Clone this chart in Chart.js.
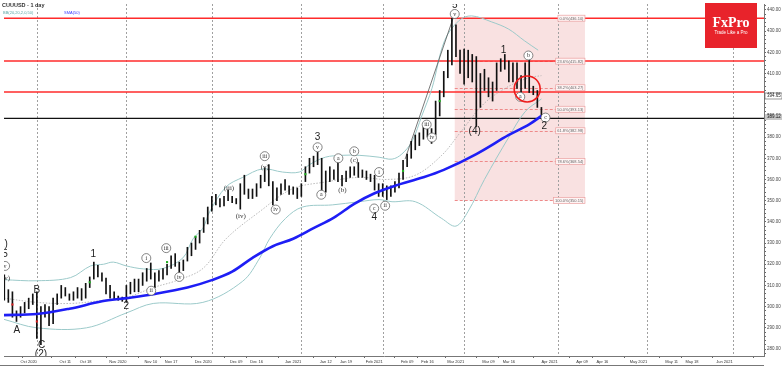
<!DOCTYPE html>
<html>
<head>
    <title>CUUUSD - 1 day</title>
    <script src="https://cdn.jsdelivr.net/npm/chart.js"></script>
</head>
<body style="margin: 0; background-color: #ffffff;">
    <canvas id="myChart" width="782" height="366"></canvas>

    <script>
        // bar 0 = 1 Oct 2020, one step per trading day
        var firstBar = -8;
        var opens = [312,305,306,297,296,299,300,302,305,288,299,299.6,292.6,302,305,306,305.5,305,305,307.5,305,309.8,313.5,319,315.5,313,309,306.5,304.5,303.5,304,308,308.5,309,311.5,313,316,313,316,314.5,316,319.2,322.5,320,318,322,325,327.7,331,336,340,346,350.4,349.5,349,352.8,351,350,350.4,359,354.6,352,353,356.5,360,364.4,358,351,354,355.5,356,354,355,352.8,360,363.5,368,370.5,369,355,364,361,367,358.8,360,362,363,364.6,362,363.5,361,361,357.4,354,356,353,355,357,361,366.8,371.4,375,377.5,380,381,383,382,392,401,409,416,430,419.5,411,420,410,417,396,411.5,407,400,403,414,416,414.8,408,414,402,404,414,403,401.7,393];
        var highs = [315,308,307,298,300,302,304,306,307,300,301,300,304,306,310,309,306,307,309,308.5,311,314,321,319.5,316,313.5,310,307,305,304.5,310,311.5,313,313,316,318,320.6,316,317,318,320,324,325,321,322,328,330,333,336,342,347,352,353,351,352,355,352,351,358,362,355.5,355.5,358,362,365.5,367,359,356,358,360,357,356.5,356,358,366,370,371,372.8,370,364,366,364.5,369,362,364,366,366,368,364.5,364,362.5,362,358,358,357,357,359,363,369,372,378,381,382,385,386,384,397,402,411,421,436.1,433,421,421.5,421,419,418,410,412,408,406,415,417,419,416,415,415,409,415,417,404,402,394];
        var lows = [303,302,295,293,295,297,299,301,285,282,295,291,292,301,304,305,303,303,304,303,304,309,313,314,312,306,304,303.5,303,302.5,302,306,307,307,310,312,313,309,312,313,315,318,319,316,317,321.5,324,327,330,335,339,345,348,347,347.5,350,349,348.5,346,353,351,351,352,356,359,357,348,350,353,355,353,353,351,352,359,363,366,367,354,354,359,360,359,357,359,361,362,361,361,360,359,355,352,352,350.5,352,354,356,360,366,370,374,376,379,380,377,381,390,399,408,414,418,410,405,408,406,385,394,402,399,397,402,411,412,406,406,403,399,403,401,400,394,389];
        var closes = [305,306,297,296,299,301,302,304,288,299,297,292,303,304.5,308,307.5,304,305.3,308,304,310,313.5,319,315.5,313,307,305,304.5,303.5,303.6,309,310.5,311.5,312,315,316,313.6,315,313,317,319,322.5,320,318,321,327,329.5,332,334.6,341,346,351,350.6,348,351,350.4,349.5,350.2,357.4,353.5,351.9,354.6,357,361,364.4,358,351,355,357,359,354,355.5,352,357.4,365,369.6,370,368.2,355,363.5,360,363.5,360,361,363,365,365,362,363.5,361,361.2,356,354.2,356,352.8,356,358,362,368,371.4,377.5,380,381,383.6,384,381.6,396,401,410,420,430,419.5,411.5,420,410,418,394.8,409,404,401,404,414,416,414,408.8,414,405,403.5,414,402,401.7,394.8,390.5];

        // SMA(50)
        var smaBar = [-8.1,0,8,16,22,29,37,43,48,53,58,63,68,73,78,83,88,95,100,108,116,121,124];
        var smaVal = [296,296.5,299,302.5,304,306,309,312.5,316.5,323,328.5,332,337,342,348.5,353.5,357,361,364.5,372,381,386,390];

        // Bollinger bands
        var upperBar = [-8.1,0,8.3,13.2,16.4,18.8,22,26.2,31,35.9,38.4,40.8,42.5,46.5,50.6,55.5,60.4,64.5,67,70.9,75,79.2,84.1,87.3,89.7,92.2,94.6,97.1,100.2,103.7,106.8,111.7,115.9,119.8,123.2];
        var upperVal = [312.7,312.2,313.7,319.2,320,321,319.2,317.8,318,323,332,337,344.9,356.5,361,365,363.5,363.5,367,370.5,371.4,371.4,370.5,369.6,372,378,390,403,425.5,434.9,437.2,434.4,431,425.5,421];
        var lowerBar = [-8.1,0,12.2,22,28.6,40.8,50.6,54.8,57.2,61.1,65.3,72.6,79.2,84.1,87.3,93,99.5,103,106,110,116,120,124];
        var lowerVal = [294,290,290,297,301.5,302,312,323,332,341.6,347,348,349.5,350.5,349.5,349.5,341.6,338,345,360,380,392,398];
        var midBar = [-8.1,0,8.3,16.4,22,28.6,34.2,40.8,46.5,54.8,62.8,70.9,79.2,86,93,99.5,104,110,116,121,124];
        var midVal = [304,302,301.5,303,304.3,309,312.2,318,332,344.9,355.6,358.8,361,360,362,371.4,382,396,404,408,409];

        var greenSig = [[13,311.5],[32,321],[39,333],[66,362.5],[90,364],[99,397]];
        var redSig = [[-6,301],[0,293]];

        var trendLine = [[90.5,369.6],[102.4,436.7]];

        var tickBar = [0,7,12,22,28,33,43,49,54,65,71,76,85,91,96,105,111,116,128,134,139,150,156,161,171];
        var tickText = ['Oct 2020','Oct 11','Oct 18','Nov 2020','Nov 10','Nov 17','Dec 2020','Dec 09','Dec 16','Jan 2021','Jan 12','Jan 19','Feb 2021','Feb 09','Feb 16','Mar 2021','Mar 09','Mar 16','Apr 2021','Apr 09','Apr 16','May 2021','May 11','May 18','Jun 2021'];
        var monthBar = [0,22,43,65,85,105,128,150,171];

        var fibStart = 102.7, fibEnd = 134.7;
        var fibPct = ['0.0','23.6','38.2','50.0','61.8','78.6','100.0'];
        var fibVal = [436.10,415.82,403.27,393.13,382.98,368.54,350.15];
        var redLevels = [436.1,415.9,401.3];
        var blackLevel = 388.8;
        var lastPrice = 394.65, linePrice = 389.12;

        // [bar, price, text, kind]  n = number/letter, p = plain small, c = circled
        var waves = [
            [-8.6,329.5,'(1)','n'],[-7.8,324.8,'5','n'],[-7.8,319.2,'v','c'],[-7.8,313.5,'(iv)','p'],
            [-4.9,288.9,'A','n'],[0,307.5,'B','n'],[1.15,281.6,'C','n'],[1,277.3,'(2)','n'],
            [13.9,324.8,'1','n'],[22,300,'2','n'],
            [26.9,322.9,'i','c'],[28.1,307.5,'ii','c'],[31.8,327.6,'iii','c'],[35,314,'iv','c'],
            [47.2,356,'(iii)','p'],[50.1,342.5,'(iv)','p'],[56,371,'iii','c'],[56,365.8,'(v)','p'],[58.7,345.8,'iv','c'],
            [69,379.8,'3','n'],[69,375.2,'v','c'],[69.9,352.8,'a','c'],
            [74.1,370,'a','c'],[75.1,355.1,'(b)','p'],[78,373.3,'b','c'],[78,369.1,'(c)','p'],
            [84.1,363.5,'i','c'],[82.9,346.3,'c','c'],[82.9,342,'4','n'],[85.6,347.6,'ii','c'],
            [95.8,385.9,'iii','c'],[97.1,379.8,'iv','c'],
            [102.7,442,'5','n'],[102.7,438.1,'v','c'],[107.6,382.6,'(4)','n'],
            [114.7,420.9,'1','n'],[120.8,418.5,'b','c'],[118.8,399,'a','c'],[125,389.2,'c','c'],[124.7,385,'2','n']
        ];
        var circleMark = [120.5,402.7];

        var ctx = document.getElementById('myChart').getContext('2d');

        var wickData = [], bodyData = [], bodyFill = [];
        for (var i = 0; i < closes.length; i++) {
            var b = firstBar + i;
            wickData.push({x: b, y: [lows[i], highs[i]]});
            var top = closes[i];
            if (Math.abs(closes[i] - opens[i]) < 0.5) top = opens[i] + 0.5;
            bodyData.push({x: b, y: [opens[i], top]});
            bodyFill.push(closes[i] >= opens[i] ? '#ffffff' : '#000000');
        }
        function pts(xs, ys) {
            return xs.map(function (x, k) { return {x: x, y: ys[k]}; });
        }
        function pairs(list) {
            return list.map(function (p) { return {x: p[0], y: p[1]}; });
        }

        var overlay = {
            id: 'overlay',
            beforeDatasetsDraw: function (chart) {
                var c = chart.ctx, a = chart.chartArea, xs = chart.scales.x, ys = chart.scales.y;
                c.save();
                c.beginPath();
                c.rect(a.left, a.top, a.right - a.left, a.bottom - a.top);
                c.clip();
                var fx0 = xs.getPixelForValue(fibStart), fx1 = xs.getPixelForValue(fibEnd);
                var fy0 = ys.getPixelForValue(fibVal[0]), fy1 = ys.getPixelForValue(fibVal[fibVal.length - 1]);
                c.fillStyle = '#f9e1e1';
                c.fillRect(fx0, fy0, fx1 - fx0, fy1 - fy0);

                c.strokeStyle = '#a0a0a0';
                c.lineWidth = 1;
                c.setLineDash([2, 2]);
                monthBar.forEach(function (m) {
                    var x = Math.round(xs.getPixelForValue(m)) + 0.5;
                    c.beginPath(); c.moveTo(x, a.top); c.lineTo(x, a.bottom); c.stroke();
                });
                c.strokeStyle = '#ee8a8a';
                c.setLineDash([3, 2]);
                fibVal.forEach(function (v) {
                    var y = Math.round(ys.getPixelForValue(v)) + 0.5;
                    c.beginPath(); c.moveTo(fx0, y); c.lineTo(fx1, y); c.stroke();
                });
                c.setLineDash([]);
                c.strokeStyle = '#ff2b2b';
                c.lineWidth = 1.6;
                redLevels.forEach(function (v) {
                    var y = ys.getPixelForValue(v);
                    c.beginPath(); c.moveTo(a.left, y); c.lineTo(a.right, y); c.stroke();
                });
                c.strokeStyle = '#111111';
                c.lineWidth = 1.3;
                var by = ys.getPixelForValue(blackLevel);
                c.beginPath(); c.moveTo(a.left, by); c.lineTo(a.right, by); c.stroke();
                c.restore();
            },
            afterDatasetsDraw: function (chart) {
                var c = chart.ctx, a = chart.chartArea, xs = chart.scales.x, ys = chart.scales.y;
                c.save();
                c.beginPath();
                c.rect(a.left, a.top, a.right - a.left, a.bottom - a.top);
                c.clip();

                // fibo level tags
                var fx1 = xs.getPixelForValue(fibEnd);
                c.font = '4px Arial';
                c.textAlign = 'right';
                c.textBaseline = 'middle';
                fibVal.forEach(function (v, k) {
                    var t = fibPct[k] + '%(' + v.toFixed(2) + ')';
                    var w = c.measureText(t).width;
                    var y = ys.getPixelForValue(v);
                    c.fillStyle = '#fff4f4';
                    c.fillRect(fx1 - w - 3, y - 3, w + 3, 6);
                    c.strokeStyle = '#eaa0a0';
                    c.lineWidth = 0.7;
                    c.strokeRect(fx1 - w - 3, y - 3, w + 3, 6);
                    c.fillStyle = '#666666';
                    c.fillText(t, fx1 - 1.5, y + 0.3);
                });

                // wave counts
                c.textAlign = 'center';
                waves.forEach(function (w) {
                    var x = xs.getPixelForValue(w[0]), y = ys.getPixelForValue(w[1]);
                    if (w[3] === 'n') {
                        c.font = '10px Arial';
                        c.fillStyle = '#222222';
                        c.fillText(w[2], x, y);
                    } else if (w[3] === 'p') {
                        c.font = '7px "Liberation Serif"';
                        c.fillStyle = '#333333';
                        c.fillText(w[2], x, y);
                    } else {
                        c.beginPath();
                        c.arc(x, y, 4.5, 0, Math.PI * 2);
                        c.fillStyle = '#ffffff';
                        c.fill();
                        c.strokeStyle = '#666666';
                        c.lineWidth = 0.8;
                        c.stroke();
                        c.font = '6px "Liberation Serif"';
                        c.fillStyle = '#333333';
                        c.fillText(w[2], x, y);
                    }
                });

                // red circle
                c.beginPath();
                c.arc(xs.getPixelForValue(circleMark[0]), ys.getPixelForValue(circleMark[1]), 13, 0, Math.PI * 2);
                c.strokeStyle = '#ee1c1c';
                c.lineWidth = 1.6;
                c.stroke();
                c.restore();

                // title
                c.save();
                c.textAlign = 'left';
                c.textBaseline = 'middle';
                c.font = 'bold 5.5px Arial';
                c.fillStyle = '#333333';
                c.fillText('CUUUSD - 1 day', 2, 5);
                c.font = '4px Arial';
                c.fillStyle = '#5aa5a5';
                c.fillText('BB(20,20,2,0,50)', 3, 12.5);
                c.fillStyle = '#3a3aff';
                c.fillText('SMA(50)', 64, 12.5);

                // logo
                c.fillStyle = '#e8232b';
                c.fillRect(705, 3, 52, 45);
                c.fillStyle = '#ffffff';
                c.textAlign = 'center';
                c.font = 'bold 14px "Liberation Serif"';
                c.fillText('FxPro', 731, 23);
                c.font = '4.5px Arial';
                c.fillText('Trade Like a Pro', 731, 33);

                // x labels
                c.font = '4px Arial';
                c.fillStyle = '#333333';
                tickBar.forEach(function (t, k) {
                    var x = xs.getPixelForValue(t);
                    c.textAlign = tickText[k].length === 8 ? 'right' : 'center';
                    c.fillText(tickText[k], x, a.bottom + 5.5);
                });
                c.strokeStyle = '#777777';
                c.lineWidth = 1;
                c.beginPath(); c.moveTo(0, 365.5); c.lineTo(a.right, 365.5); c.stroke();

                // price tags
                c.textAlign = 'left';
                c.font = '4.5px Arial';
                var ty = 96;
                c.fillStyle = '#ffffff';
                c.fillRect(a.right + 1, ty - 3, 17, 6);
                c.strokeStyle = '#555555';
                c.lineWidth = 0.6;
                c.strokeRect(a.right + 1, ty - 3, 17, 6);
                c.fillStyle = '#222222';
                c.fillText(lastPrice.toFixed(2), a.right + 3, ty);
                ty = 117;
                c.fillStyle = '#c8c8c8';
                c.fillRect(a.right + 1, ty - 3, 17, 6);
                c.fillStyle = '#111111';
                c.fillText(linePrice.toFixed(2), a.right + 3, ty);
                c.restore();
            }
        };

        var myChart = new Chart(ctx, {
            type: 'bar',
            data: {
                datasets: [
                    {
                        type: 'line', label: 'SMA(50)', data: pts(smaBar, smaVal),
                        borderColor: '#1e1ef5', borderWidth: 2.6, pointRadius: 0, tension: 0.35, order: -2
                    },
                    {
                        type: 'line', label: 'buy', data: pairs(greenSig), showLine: false,
                        pointStyle: 'rect', pointRadius: 1.5, pointBackgroundColor: '#22b022', pointBorderWidth: 0, order: -1
                    },
                    {
                        type: 'line', label: 'sell', data: pairs(redSig), showLine: false,
                        pointStyle: 'rect', pointRadius: 1.5, pointBackgroundColor: '#dd2222', pointBorderWidth: 0, order: -1
                    },
                    {
                        label: 'body', data: bodyData, backgroundColor: bodyFill, borderColor: '#1a1a1a',
                        borderWidth: 1, borderSkipped: false, barThickness: 4, grouped: false, order: 0
                    },
                    {
                        label: 'wick', data: wickData, backgroundColor: '#111111', borderWidth: 0,
                        barThickness: 1, grouped: false, order: 1
                    },
                    {
                        type: 'line', label: 'trend', data: pairs(trendLine),
                        borderColor: '#555555', borderWidth: 0.8, pointRadius: 0, order: 2
                    },
                    {
                        type: 'line', label: 'BB upper', data: pts(upperBar, upperVal),
                        borderColor: '#9ccaca', borderWidth: 1, pointRadius: 0, tension: 0.35, order: 3
                    },
                    {
                        type: 'line', label: 'BB lower', data: pts(lowerBar, lowerVal),
                        borderColor: '#9ccaca', borderWidth: 1, pointRadius: 0, tension: 0.35, order: 3
                    },
                    {
                        type: 'line', label: 'BB middle', data: pts(midBar, midVal),
                        borderColor: '#a8a8a8', borderWidth: 0.8, borderDash: [1.5, 1.5], pointRadius: 0, tension: 0.35, order: 3
                    }
                ]
            },
            options: {
                responsive: false,
                animation: false,
                layout: { padding: 0 },
                plugins: {
                    legend: { display: false },
                    tooltip: { enabled: false }
                },
                scales: {
                    x: {
                        type: 'linear',
                        min: -8.07,
                        max: 178.7,
                        offset: false,
                        grid: { drawOnChartArea: false, tickLength: 2, color: '#666666' },
                        border: { color: '#777777' },
                        ticks: { display: false },
                        afterBuildTicks: function (s) {
                            s.ticks = tickBar.map(function (v) { return {value: v}; });
                        },
                        afterFit: function (s) { s.height = 10; }
                    },
                    y: {
                        position: 'right',
                        min: 276.7,
                        max: 442.8,
                        grid: { drawOnChartArea: false, tickLength: 2, color: '#666666' },
                        border: { color: '#777777' },
                        ticks: {
                            stepSize: 2,
                            autoSkip: false,
                            includeBounds: false,
                            padding: 1,
                            color: '#444444',
                            font: { size: 4.5 },
                            callback: function (v) { return v % 10 === 0 ? v.toFixed(2) : ''; }
                        },
                        afterFit: function (s) { s.width = 18; }
                    }
                }
            },
            plugins: [overlay]
        });
    </script>
</body>
</html>
